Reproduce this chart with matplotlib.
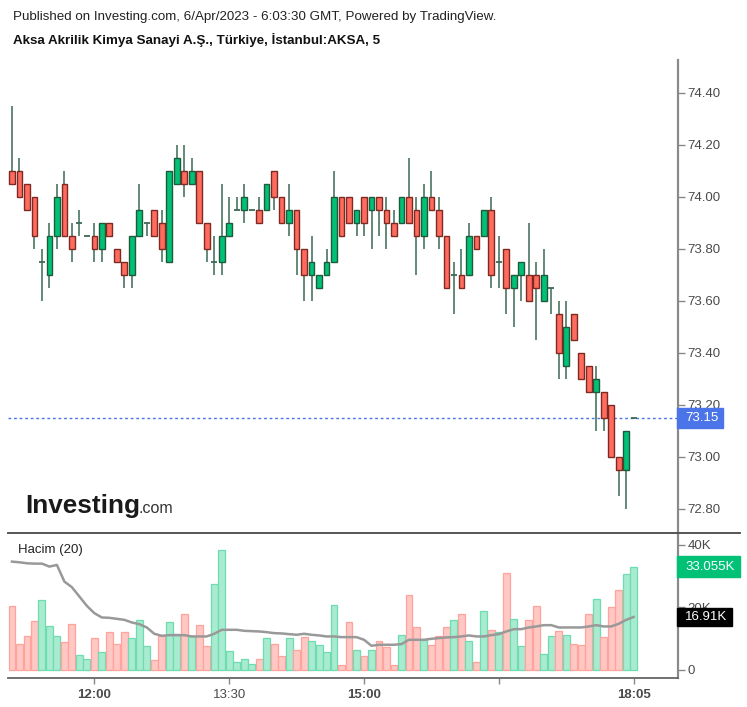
import numpy as np
import matplotlib
matplotlib.use('Agg')
import matplotlib.pyplot as plt
from matplotlib.lines import Line2D
from matplotlib.patches import Rectangle
from matplotlib.transforms import blended_transform_factory

plt.rcParams['font.family'] = ['Liberation Sans', 'DejaVu Sans']

# ---- data: 5 minute bars, AKSA ----
opens = [74.10, 74.10, 74.05, 74.00, 73.75, 73.70, 73.85, 74.05, 73.85, 73.90,
         73.85, 73.85, 73.80, 73.90, 73.80, 73.75, 73.70, 73.85, 73.90, 73.95,
         73.90, 73.75, 74.05, 74.10, 74.05, 74.10, 73.90, 73.75, 73.75, 73.85,
         73.95, 73.95, 73.95, 73.95, 73.95, 74.10, 74.00, 73.90, 73.95, 73.80,
         73.70, 73.65, 73.70, 73.75, 74.00, 74.00, 73.90, 74.00, 73.95, 74.00,
         73.95, 73.90, 73.90, 74.00, 73.95, 73.85, 74.00, 73.95, 73.85, 73.70,
         73.70, 73.70, 73.85, 73.85, 73.95, 73.75, 73.80, 73.65, 73.70, 73.70,
         73.70, 73.60, 73.65, 73.55, 73.35, 73.55, 73.40, 73.35, 73.25, 73.25,
         73.20, 73.00, 72.95, 73.15]
highs = [74.35, 74.15, 74.05, 74.00, 73.80, 73.90, 74.05, 74.10, 73.90, 73.95,
         73.85, 73.90, 73.90, 73.90, 73.80, 73.75, 73.85, 74.05, 73.90, 73.95,
         73.95, 74.10, 74.20, 74.20, 74.15, 74.10, 73.90, 73.85, 74.05, 74.00,
         74.00, 74.05, 73.95, 74.00, 74.05, 74.10, 74.00, 74.05, 73.95, 73.80,
         73.85, 73.70, 73.80, 74.10, 74.00, 74.00, 73.95, 74.00, 74.00, 74.00,
         74.00, 73.95, 74.00, 74.15, 74.00, 74.05, 74.10, 74.00, 73.85, 73.75,
         73.80, 73.90, 73.85, 73.95, 74.00, 73.85, 73.80, 73.70, 73.75, 73.90,
         73.75, 73.80, 73.65, 73.60, 73.60, 73.55, 73.40, 73.35, 73.35, 73.25,
         73.20, 73.00, 73.10, 73.15]
lows = [74.05, 74.00, 73.95, 73.80, 73.60, 73.65, 73.80, 73.85, 73.75, 73.85,
        73.85, 73.75, 73.75, 73.85, 73.75, 73.65, 73.65, 73.85, 73.85, 73.85,
        73.75, 73.75, 74.05, 74.00, 74.05, 73.90, 73.75, 73.70, 73.70, 73.85,
        73.95, 73.90, 73.95, 73.90, 73.95, 73.95, 73.90, 73.85, 73.70, 73.60,
        73.60, 73.65, 73.70, 73.75, 73.85, 73.90, 73.85, 73.85, 73.80, 73.85,
        73.80, 73.85, 73.90, 73.90, 73.70, 73.80, 73.95, 73.80, 73.65, 73.55,
        73.65, 73.70, 73.80, 73.85, 73.65, 73.65, 73.55, 73.50, 73.60, 73.60,
        73.45, 73.60, 73.55, 73.30, 73.30, 73.45, 73.30, 73.25, 73.10, 73.10,
        73.00, 72.85, 72.80, 73.15]
closes = [74.05, 74.00, 73.95, 73.85, 73.75, 73.85, 74.00, 73.85, 73.80, 73.90,
          73.85, 73.80, 73.90, 73.85, 73.75, 73.70, 73.85, 73.95, 73.90, 73.85,
          73.80, 74.10, 74.15, 74.05, 74.10, 73.90, 73.80, 73.75, 73.85, 73.90,
          73.95, 74.00, 73.95, 73.90, 74.05, 74.00, 73.90, 73.95, 73.80, 73.70,
          73.75, 73.70, 73.75, 74.00, 73.85, 73.90, 73.95, 73.90, 74.00, 73.95,
          73.90, 73.85, 74.00, 73.90, 73.85, 74.00, 73.95, 73.85, 73.65, 73.70,
          73.65, 73.85, 73.80, 73.95, 73.70, 73.75, 73.65, 73.70, 73.75, 73.60,
          73.65, 73.70, 73.65, 73.40, 73.50, 73.45, 73.30, 73.25, 73.30, 73.15,
          73.00, 72.95, 73.10, 73.15]
volumes = [20480, 8320, 10880, 15680, 22400, 14080, 10880, 8750, 14720, 4800,
           3520, 10030, 5650, 12050, 8320, 12050, 10030, 16000, 7680, 3200,
           10880, 15150, 11500, 17920, 10670, 14400, 7680, 27520, 38400, 6080,
           2350, 3520, 1920, 3520, 10030, 8320, 4480, 10030, 6400, 10350,
           9280, 8000, 5650, 20800, 1600, 15260, 6400, 4480, 6400, 9280,
           7250, 1600, 11090, 24000, 13650, 9600, 8000, 10880, 13650, 16000,
           17920, 9280, 2350, 18880, 12800, 12050, 30940, 16420, 7470, 16000,
           20480, 5120, 10880, 12480, 11090, 8320, 8000, 17920, 22820, 10350,
           20050, 25600, 30720, 33055]
vol_ma = [34660, 34450, 34130, 34020, 34020, 33070, 33600, 28260, 26460, 23470,
          20480, 18130, 16750, 16640, 16320, 16000, 15150, 14610, 13550, 11520,
          10880, 11090, 11090, 11090, 10670, 10670, 10670, 11520, 12800, 12800,
          12800, 12480, 12370, 12270, 12050, 11730, 11630, 11410, 11200, 11520,
          11200, 10990, 10670, 10670, 10450, 10450, 10450, 9600, 7680, 8000,
          8000, 8000, 8210, 9600, 9600, 9600, 9920, 10130, 10350, 10450,
          10670, 10990, 10670, 10670, 11090, 11410, 12270, 13010, 13010, 13550,
          13870, 14290, 14290, 13550, 13550, 13550, 13550, 13870, 14290, 13870,
          13870, 14720, 16000, 16910]
tick_pos = [11, 29, 47, 65, 83]
tick_labels = ['12:00', '13:30', '15:00', '', '18:05']
tick_bold = [True, False, True, False, True]
last_price = 73.15

# ---- colours ----
UP, DOWN = '#00c176', '#ff6b5e'
UP_EDGE, DOWN_EDGE = '#1f5a3c', '#7d2a22'
WICK = '#3b6a54'
VUP, VUP_E = '#a9ebd1', '#6ddcae'
VDN, VDN_E = '#ffc8c4', '#ffa39c'
TXT = '#4a4a4a'

W, H = 747, 707
fig = plt.figure(figsize=(W / 100, H / 100), dpi=100)
fig.patch.set_facecolor('white')

ax = fig.add_axes([8 / W, 1 - 533 / H, 670 / W, 473 / H])
axv = fig.add_axes([8 / W, 1 - 678 / H, 670 / W, 145 / H])

x = np.arange(len(opens))
o = np.array(opens); c = np.array(closes)
hi = np.array(highs); lo = np.array(lows)
up = c >= o

# ---- price pane ----
ax.axhline(last_price, color='#4a74e8', lw=1, ls=(0, (2, 2)), zorder=1)
ax.vlines(x, lo, hi, color=WICK, lw=1.1, zorder=2)
body = np.abs(c - o)
solid = body > 1e-9
ax.bar(x[solid & up], body[solid & up], bottom=o[solid & up], width=0.76,
       color=UP, edgecolor=UP_EDGE, linewidth=1.0, zorder=3)
ax.bar(x[solid & ~up], body[solid & ~up], bottom=c[solid & ~up], width=0.76,
       color=DOWN, edgecolor=DOWN_EDGE, linewidth=1.0, zorder=3)
ax.hlines(o[~solid], x[~solid] - 0.4, x[~solid] + 0.4, color=WICK, lw=1.3, zorder=3)

ax.set_xlim(-0.53, 88.92)
ax.set_ylim(72.7065, 74.526)
ax.set_yticks(np.arange(72.8, 74.41, 0.2))
ax.set_yticklabels([f'{v:.2f}' for v in np.arange(72.8, 74.41, 0.2)])
ax.yaxis.tick_right()
ax.tick_params(axis='y', length=5, width=1, color='#888888', labelcolor=TXT,
               labelsize=9.5, pad=2)
ax.set_xticks([])
for s in ['top', 'left', 'bottom']:
    ax.spines[s].set_visible(False)
ax.spines['right'].set_color('#8a8a8a')
ax.spines['right'].set_linewidth(1.6)

tr = blended_transform_factory(ax.transAxes, ax.transData)
ax.add_patch(Rectangle((0.9985, last_price - 0.0385), 0.0687, 0.077,
                       transform=tr, clip_on=False, color='#4a74e8', zorder=5))
ax.text(1.0105, last_price, '73.15', transform=tr, ha='left', va='center',
        color='white', fontsize=9.5, zorder=6, clip_on=False)

# ---- volume pane ----
vcol = [VUP if u else VDN for u in up]
vedge = [VUP_E if u else VDN_E for u in up]
axv.bar(x, volumes, width=0.92, color=vcol, edgecolor=vedge, linewidth=0.9, zorder=2)
axv.plot(x, vol_ma, color='#999999', lw=1.8, zorder=3)
axv.set_xlim(-0.53, 88.92)
axv.set_ylim(-2656, 43840)
axv.set_yticks([0, 20000, 40000])
axv.set_yticklabels(['0', '20K', '40K'])
axv.yaxis.tick_right()
axv.tick_params(axis='y', length=5, width=1, color='#888888', labelcolor=TXT,
                labelsize=9.5, pad=2)
axv.set_xticks(tick_pos)
axv.set_xticklabels(tick_labels)
axv.tick_params(axis='x', length=4, width=1, color='#888888', labelcolor=TXT,
                labelsize=9.5, pad=4)
for lab, b in zip(axv.get_xticklabels(), tick_bold):
    lab.set_fontweight('bold' if b else 'normal')
for s in ['top', 'left']:
    axv.spines[s].set_visible(False)
axv.spines['right'].set_color('#8a8a8a')
axv.spines['right'].set_linewidth(1.6)
axv.spines['bottom'].set_color('#666666')
axv.spines['bottom'].set_linewidth(1.3)

trv = blended_transform_factory(axv.transAxes, axv.transData)
axv.add_patch(Rectangle((0.9985, volumes[-1] - 3360), 0.094, 6720, transform=trv,
                        clip_on=False, color='#00c176', zorder=5))
axv.text(1.0105, volumes[-1], '33.055K', transform=trv, ha='left', va='center',
         color='white', fontsize=9.5, zorder=6, clip_on=False)
axv.add_patch(Rectangle((0.9985, vol_ma[-1] - 3040), 0.082, 6080, transform=trv,
                        clip_on=False, color='black', zorder=5))
axv.text(1.0105, vol_ma[-1], '16.91K', transform=trv, ha='left', va='center',
         color='white', fontsize=9.5, zorder=6, clip_on=False)

# separator between panes
fig.add_artist(Line2D([8 / W, 740 / W], [1 - 533 / H, 1 - 533 / H],
                      color='#555555', lw=1.4))

# ---- texts ----
fig.text(13 / W, 1 - 17 / H,
         'Published on Investing.com, 6/Apr/2023 - 6:03:30 GMT, Powered by TradingView.',
         fontsize=9.6, color='#222222', va='center')
fig.text(13 / W, 1 - 40 / H, 'Aksa Akrilik Kimya Sanayi A.Ş., Türkiye, İstanbul:AKSA, 5',
         fontsize=9.6, color='#111111', va='center', fontweight='bold')
fig.text(18 / W, 1 - 550 / H, 'Hacim (20)', fontsize=9.5, color='#222222', va='center')
fig.text(25 / W, 1 - 513 / H, 'Investing', fontsize=18.8, fontweight='bold',
         color='#1a1a1a', va='baseline')
fig.text(138 / W, 1 - 513 / H, '.com', fontsize=11.5, color='#333333', va='baseline')

fig.savefig('out.png', dpi=100, facecolor='white')
